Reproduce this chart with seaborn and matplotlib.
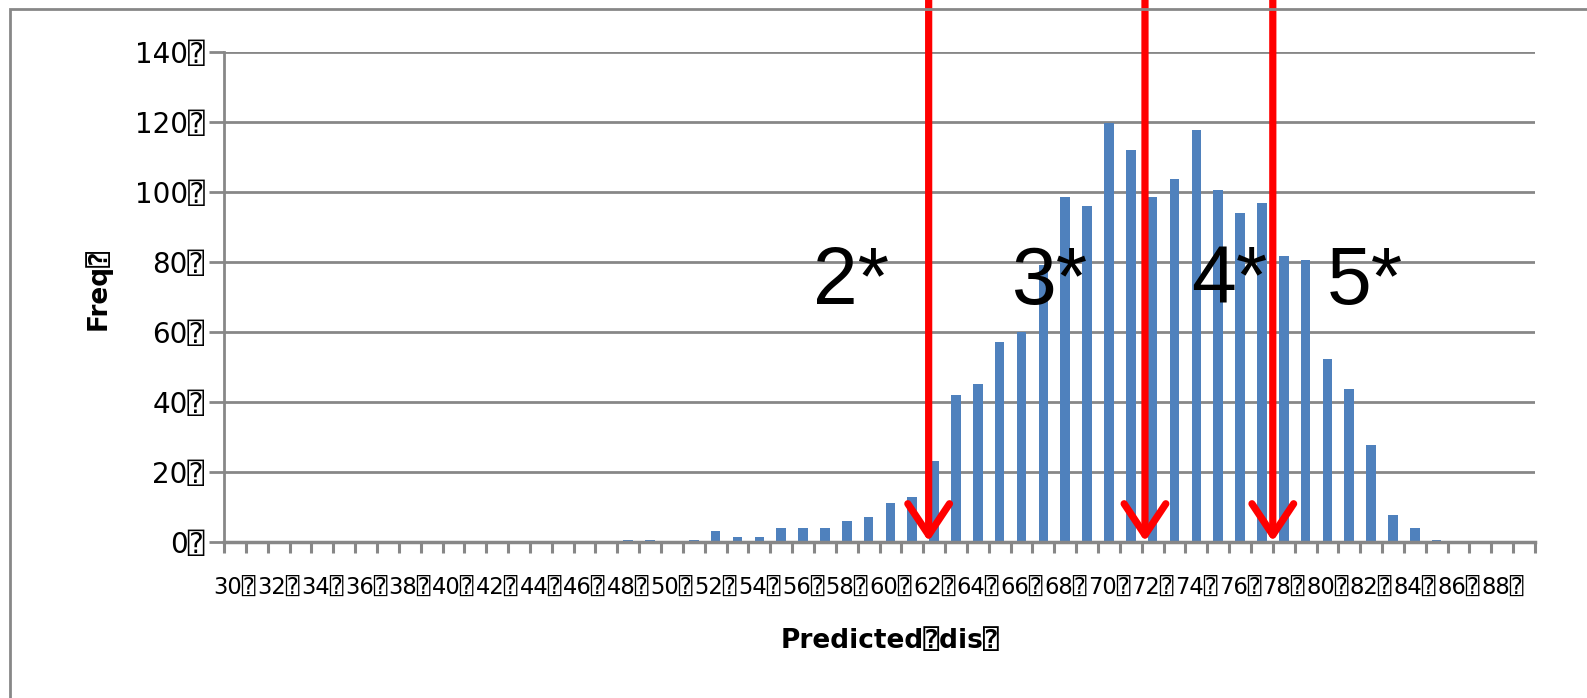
import numpy as np
import pandas as pd
import seaborn as sns
import matplotlib.pyplot as plt
from matplotlib.patches import Rectangle

# Predicted score bins and their frequencies
dis_values = list(range(30, 90))
freq_values = [0] * 18 + [
    0.4, 0.4, 0, 0.4, 3.1, 1.2, 1.2, 4.0, 4.0, 4.0,      # 48-57
    6.0, 7.0, 10.9, 12.6, 23.0, 42.0, 45.0, 57.0, 60.0, 79.0,  # 58-67
    98.5, 95.8, 119.5, 112.0, 98.5, 103.5, 117.5, 100.5, 94.0, 96.8,  # 68-77
    81.7, 80.6, 52.3, 43.7, 27.7, 7.7, 3.9, 0.3, 0, 0,  # 78-87
    0, 0,  # 88-89
]
y_ticks = [0, 20, 40, 60, 80, 100, 120, 140]
box = "\u2370"
x_tick_labels = [f"{d}{box}" for d in dis_values[::2]]
y_tick_labels = [f"{v}{box}" for v in y_ticks]
x_title = f"Predicted{box}dis{box}"
y_title = f"Freq{box}"

# Class cut points (between bins) and star-rating labels
cut_points = [61.75, 71.65, 77.5]
star_labels = ["2*", "3*", "4*", "5*"]
star_x = [56.95, 66.05, 74.25, 80.45]
star_y = 68

GRID = "#878787"
BAR = "#4F81BD"
FALLBACK = ["DejaVu Sans Mono", "Noto Sans", "Noto Sans CJK SC"]

sns.set_theme(style="white")
plt.rcParams["font.family"] = ["DejaVu Sans"] + FALLBACK
plt.rcParams["text.color"] = "black"
plt.rcParams["axes.labelcolor"] = "black"
plt.rcParams["xtick.labelcolor"] = "black"
plt.rcParams["ytick.labelcolor"] = "black"

W, H = 1587, 698
fig = plt.figure(figsize=(W / 100, H / 100), dpi=100)
fig.patch.set_facecolor("white")
left, right, bottom, top = 224, 1535, 541.5, 51.7
ax = fig.add_axes([left / W, 1 - bottom / H, (right - left) / W, (bottom - top) / H])

# outer chart frame (runs off the right and bottom edges)
fig.patches.append(Rectangle((10 / W, -0.1), 1.2, 1 - 9 / H + 0.1,
                             transform=fig.transFigure, fill=False,
                             edgecolor=GRID, lw=2, zorder=0))

df = pd.DataFrame({"dis": [str(d) for d in dis_values], "freq": freq_values})
sns.barplot(data=df, x="dis", y="freq", color=BAR, saturation=1, width=0.44,
            ax=ax, zorder=2, linewidth=0)

ax.set_xlim(-0.5, len(dis_values) - 0.5)
ax.set_ylim(0, 140)

# y axis
ax.set_yticks(y_ticks)
ax.set_yticklabels(y_tick_labels, fontsize=20)
ax.yaxis.grid(True, color=GRID, lw=2)
ax.xaxis.grid(False)
ax.set_axisbelow(True)
ax.tick_params(axis="y", length=11, width=2, color=GRID, pad=3, left=True)

# x axis: labels on every other bin, tick marks between bins
ax.set_xticks(np.arange(0, len(dis_values), 2))
ax.set_xticklabels(x_tick_labels, fontsize=16.3)
ax.set_xticks(np.arange(-0.5, len(dis_values), 1), minor=True)
ax.tick_params(axis="x", which="major", length=0, pad=25.5, bottom=True)
ax.tick_params(axis="x", which="minor", length=8, width=2.2, color=GRID,
               bottom=True, direction="out")

for side in ["top", "right"]:
    ax.spines[side].set_visible(False)
ax.spines["left"].set_color(GRID)
ax.spines["left"].set_linewidth(2)
ax.spines["bottom"].set_color(GRID)
ax.spines["bottom"].set_linewidth(2.5)

ax.set_xlabel(x_title, fontsize=19, fontweight="bold")
ax.xaxis.set_label_coords((890 - left) / (right - left), -(628 - bottom) / (bottom - top))
ax.set_ylabel(y_title, fontsize=19, fontweight="bold")
ax.yaxis.set_label_coords((112 - left) / (right - left), 0.5165)

# star-rating labels
for lab, sx in zip(star_labels, star_x):
    ax.text(sx - dis_values[0] - 0.5, star_y, lab, fontsize=58,
            family="Liberation Sans", ha="left", va="baseline", color="black",
            zorder=5)

# red cut-point arrows coming down from above the plot
for cp in cut_points:
    xpos = cp - dis_values[0]
    ax.annotate("", xy=(xpos, 0), xytext=(xpos, 170), xycoords="data",
                arrowprops=dict(arrowstyle="->,head_length=0.45,head_width=0.3",
                                color="#FF0000", lw=5.2, mutation_scale=50,
                                shrinkA=0, shrinkB=0),
                annotation_clip=False, zorder=6)

fig.savefig("out.png", dpi=100, facecolor="white")
